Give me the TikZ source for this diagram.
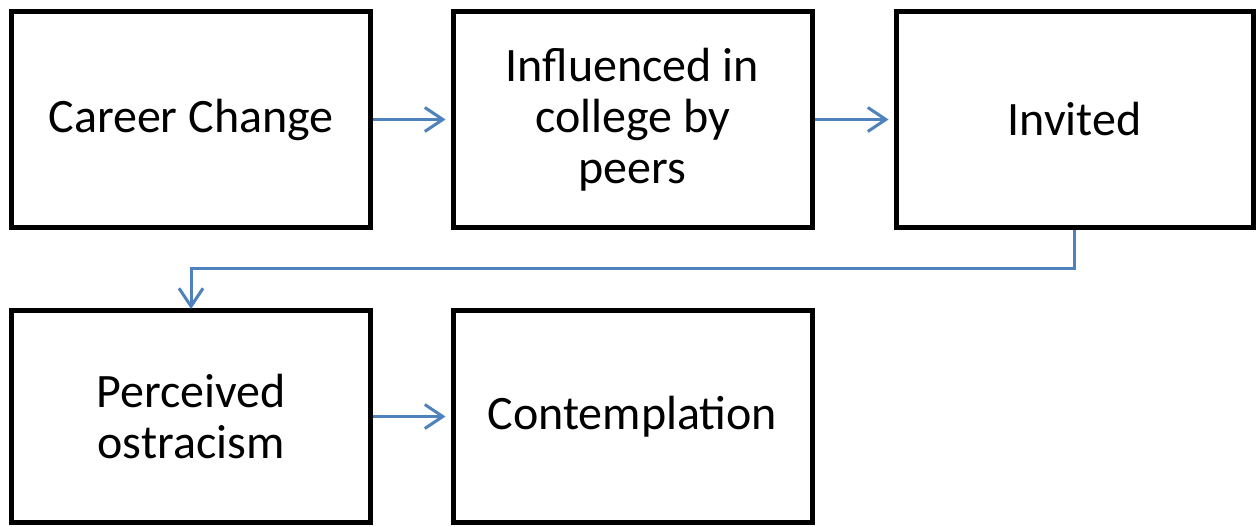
\documentclass[tikz,border=0pt]{standalone}
\usepackage{fontspec}
\setmainfont{Carlito}
\usetikzlibrary{arrows.meta}
\definecolor{linkblue}{HTML}{4F81BD}
\begin{document}
\begin{tikzpicture}[x=1pt,y=-1pt,
  stage/.style={draw=black,line width=5pt,rectangle,align=center,
    inner sep=0pt,font=\fontsize{48}{51}\selectfont},
  conn/.style={draw=linkblue,line width=3pt,
    -{Straight Barb[length=18pt,width=24pt,line width=3pt]}}]
  \useasboundingbox (0,0) rectangle (1256,527);
  \node[stage,minimum width=359pt,minimum height=216pt] (b1) at (191,119.5) {Career Change};
  \node[stage,minimum width=359pt,minimum height=216pt] (b2) at (632.5,119.5) {Influenced in\\college by\\peers};
  \node[stage,minimum width=357pt,minimum height=216pt] (b3) at (1074.5,119.5) {Invited};
  \node[stage,minimum width=359pt,minimum height=212pt] (b4) at (191,416.5) {Perceived\\ostracism};
  \node[stage,minimum width=359pt,minimum height=212pt] (b5) at (632.5,416.5) {Contemplation};
  \draw[conn] (b1.east) -- ([xshift=-5pt]b2.west);
  \draw[conn] (b2.east) -- ([xshift=-5pt]b3.west);
  \draw[conn] (b3.south) -- ++(0,38) -| ([yshift=-1pt]b4.north);
  \draw[conn] (b4.east) -- ([xshift=-5pt]b5.west);
\end{tikzpicture}
\end{document}
